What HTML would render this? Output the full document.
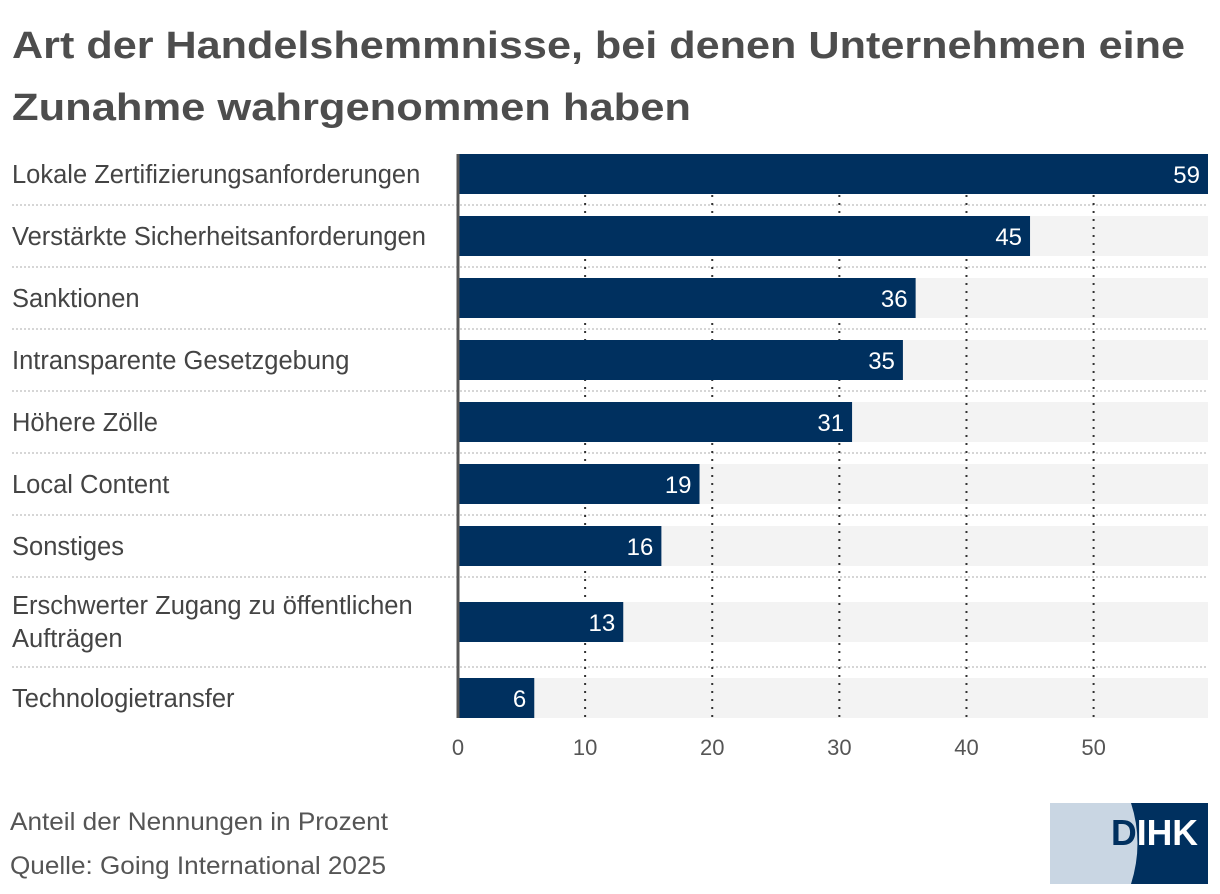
<!DOCTYPE html>
<html><head><meta charset="utf-8"><style>
body{margin:0;background:#fff;font-family:"Liberation Sans",sans-serif;}
#wrap{position:relative;width:1220px;height:894px;overflow:hidden;}
</style></head><body>
<div id="wrap">
<svg id="chart" width="1220" height="894" style="position:absolute;left:0;top:0">
<text x="12" y="58" font-size="38" font-weight="bold" fill="#4d4d4d" textLength="1173" lengthAdjust="spacingAndGlyphs">Art der Handelshemmnisse, bei denen Unternehmen eine</text>
<text x="12" y="120" font-size="38" font-weight="bold" fill="#4d4d4d" textLength="679" lengthAdjust="spacingAndGlyphs">Zunahme wahrgenommen haben</text>
<g id="plot"></g>
<text x="10" y="830" font-size="25" fill="#555" textLength="378" lengthAdjust="spacingAndGlyphs">Anteil der Nennungen in Prozent</text>
<text x="10" y="874" font-size="25" fill="#555" textLength="376" lengthAdjust="spacingAndGlyphs">Quelle: Going International 2025</text>
<g>
<defs>
<clipPath id="navyc"><path d="M1131 803 Q1144 843 1131 884 L1208 884 L1208 803 Z"/></clipPath>
</defs>
<rect x="1050" y="803" width="158" height="81" fill="#c9d6e3"/>
<path d="M1131 803 Q1144 843 1131 884 L1208 884 L1208 803 Z" fill="#00305f"/>
<text x="1111" y="845" font-size="36" font-weight="bold" fill="#00305f" textLength="87" lengthAdjust="spacingAndGlyphs">DIHK</text>
<text x="1111" y="845" font-size="36" font-weight="bold" fill="#fff" clip-path="url(#navyc)" textLength="87" lengthAdjust="spacingAndGlyphs">DIHK</text>
</g>
</svg>
</div>
<script>
const categories=["Lokale Zertifizierungsanforderungen","Verstärkte Sicherheitsanforderungen","Sanktionen","Intransparente Gesetzgebung","Höhere Zölle","Local Content","Sonstiges","Erschwerter Zugang zu öffentlichen|Aufträgen","Technologietransfer"];
const values=[59,45,36,35,31,19,16,13,6];
const ticks=[0,10,20,30,40,50];
const xMax=59;
const ns="http://www.w3.org/2000/svg";
const g=document.getElementById('plot');
const x0=458,x1=1208;
const xs=v=>x0+(x1-x0)*v/xMax;
function mk(tag,a){const e=document.createElementNS(ns,tag);for(const k in a)e.setAttribute(k,a[k]);g.appendChild(e);return e;}
let y=154;const tops=[];const seps=[];
categories.forEach((c,i)=>{const two=c.includes('|');const bt=two?y+14:y;tops.push(bt);seps.push(bt+51+(two?14:0));y+=two?90:62;});
const plotBottom=718;
tops.forEach((t,i)=>{const r=mk('rect',{x:x0,y:t,width:x1-x0,height:40,fill:'#f3f3f3'});

});
seps.slice(0,-1).forEach(s=>{const l=mk('line',{x1:12,x2:x1,y1:s,y2:s,stroke:'#c8c8c8','stroke-width':1.5,'stroke-dasharray':'2 2'});

});
ticks.forEach(t=>{if(t>0){const l=mk('line',{x1:xs(t),x2:xs(t),y1:195,y2:plotBottom,stroke:'#333','stroke-width':2,'stroke-dasharray':'2 6'});

}
const tx=mk('text',{x:xs(t),y:755,'font-size':22,fill:'#555','text-anchor':'middle'});tx.textContent=t;

});
values.forEach((v,i)=>{const t=tops[i];
const r=mk('rect',{x:x0,y:t,width:xs(v)-x0,height:40,fill:'#00305f'});


const tv=mk('text',{x:xs(v)-8,y:t+29,'font-size':24,fill:'#fff','text-anchor':'end'});tv.textContent=v;


const parts=categories[i].split('|');
parts.forEach((p,j)=>{const lt=mk('text',{x:12,y:(parts.length>1?t+12:t+29)+j*33,'font-size':25.5,fill:'#444'});lt.textContent=p;

});});
const ax=mk('line',{x1:x0,x2:x0,y1:154,y2:plotBottom,stroke:'#555','stroke-width':3});


</script>
</body></html>
